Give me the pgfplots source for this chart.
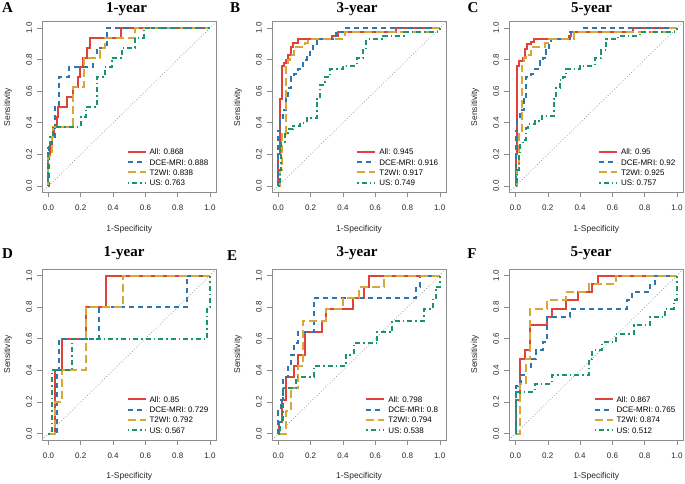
\documentclass[border=0pt]{standalone}
\usepackage{pgfplots}
\pgfplotsset{compat=1.18}
\usepackage{fontspec}
\setmainfont{Liberation Sans}
\newfontfamily\titlefont{Liberation Serif}
\definecolor{cAll}{RGB}{224,66,58}
\definecolor{cDCE}{RGB}{45,118,175}
\definecolor{cT2}{RGB}{215,168,55}
\definecolor{cUS}{RGB}{25,150,105}
\pgfplotsset{
  rocax/.style={
    x=161.5pt, y=158pt,
    xmin=-0.04, xmax=1.04, ymin=-0.04, ymax=1.04,
    anchor=origin,
    axis line style={draw=black!45, line width=0.6pt},
    xtick={0,0.2,0.4,0.6,0.8,1}, ytick={0,0.2,0.4,0.6,0.8,1},
    xticklabels={0.0,0.2,0.4,0.6,0.8,1.0}, yticklabels={0.0,0.2,0.4,0.6,0.8,1.0},
    xtick pos=bottom, ytick pos=left, tick align=outside, major tick length=5pt,
    tick style={draw=black!45, line width=0.6pt},
    ticklabel style={font=\fontsize{8}{9}\selectfont, text=black!85},
    xticklabel shift=0pt, yticklabel shift=0pt,
    yticklabel style={rotate=90, anchor=center, yshift=8pt},
    xticklabel style={anchor=center, yshift=-10.5pt},
    xlabel={1-Specificity}, ylabel={Sensitivity},
    every axis x label/.style={at={(axis description cs:0.5,-0.215)}, anchor=center, font=\fontsize{8.5}{10}\selectfont, text=black!85},
    every axis y label/.style={at={(axis description cs:-0.195,0.5)}, rotate=90, anchor=center, font=\fontsize{8.5}{10}\selectfont, text=black!85},
    legend style={at={(axis description cs:1,0)}, anchor=south east, xshift=-8pt, yshift=4.2pt,
      draw=none, fill=none, inner sep=0pt, font=\fontsize{8}{9}\selectfont,
      row sep=0pt, column sep=3pt,
      nodes={inner sep=0pt, text height=6pt, text depth=0pt, inner ysep=2.15pt}},
    legend cell align=left,
    legend image code/.code={\draw[#1] (0pt,0pt) -- (18pt,0pt);},
  },
  sAll/.style={cAll, line width=2pt},
  sDCE/.style={cDCE, line width=2pt, dash pattern=on 5pt off 4pt},
  sT2/.style={cT2, line width=2pt, dash pattern=on 8pt off 4pt},
  sUS/.style={cUS, line width=2pt, dash pattern=on 1.5pt off 3pt on 5pt off 3pt},
  sDiag/.style={black!45, line width=0.5pt, dash pattern=on 1pt off 2pt},
}
\begin{document}
\begin{tikzpicture}
\useasboundingbox (0,0) rectangle (685pt,483pt);
% ---------------- A
\begin{axis}[rocax, at={(48.5pt,297pt)}]
\addplot[sDiag, forget plot] coordinates {(-0.04,-0.04)(1.04,1.04)};
\addplot[sAll] coordinates {(0,0)(0,0.1875)(0.01,0.1875)(0.01,0.25)(0.02,0.25)(0.02,0.3125)(0.035,0.3125)(0.035,0.375)(0.05,0.375)(0.05,0.4375)(0.06,0.4375)(0.06,0.5)(0.115,0.5)(0.115,0.5625)(0.15,0.5625)(0.15,0.625)(0.18,0.625)(0.18,0.6875)(0.195,0.6875)(0.195,0.75)(0.215,0.75)(0.215,0.8125)(0.24,0.8125)(0.24,0.875)(0.26,0.875)(0.26,0.9375)(0.45,0.9375)(0.45,1)(1,1)};
\addplot[sDCE] coordinates {(0,0)(0.005,0)(0.005,0.25)(0.02,0.25)(0.02,0.3125)(0.04,0.3125)(0.04,0.5)(0.062,0.5)(0.062,0.6875)(0.124,0.6875)(0.124,0.75)(0.275,0.75)(0.275,0.8125)(0.3,0.8125)(0.3,0.875)(0.362,0.875)(0.362,1)(1,1)};
\addplot[sT2] coordinates {(0,0)(0,0.1875)(0.02,0.1875)(0.02,0.3125)(0.03,0.3125)(0.03,0.375)(0.15,0.375)(0.15,0.625)(0.217,0.625)(0.217,0.8125)(0.32,0.8125)(0.32,0.875)(0.35,0.875)(0.35,0.9375)(0.538,0.9375)(0.538,1)(1,1)};
\addplot[sUS] coordinates {(0,0)(0,0.25)(0.01,0.25)(0.01,0.3125)(0.03,0.3125)(0.03,0.375)(0.2,0.375)(0.2,0.4375)(0.235,0.4375)(0.235,0.5)(0.3,0.5)(0.3,0.6875)(0.348,0.6875)(0.348,0.75)(0.393,0.75)(0.393,0.8125)(0.455,0.8125)(0.455,0.875)(0.538,0.875)(0.538,0.9375)(0.59,0.9375)(0.59,1)(1,1)};
\legend{All: 0.868, DCE-MRI: 0.888, T2WI: 0.838, US: 0.763}
\end{axis}
% ---------------- B
\begin{axis}[rocax, at={(278.3pt,297pt)}]
\addplot[sDiag, forget plot] coordinates {(-0.04,-0.04)(1.04,1.04)};
\addplot[sAll] coordinates {(0,0)(0,0.2)(0.01,0.2)(0.01,0.55)(0.02,0.55)(0.02,0.76)(0.035,0.76)(0.035,0.78)(0.05,0.78)(0.05,0.8)(0.062,0.8)(0.062,0.83)(0.08,0.83)(0.08,0.88)(0.093,0.88)(0.093,0.905)(0.124,0.905)(0.124,0.93)(0.33,0.93)(0.33,0.952)(0.37,0.952)(0.37,0.976)(0.73,0.976)(0.73,1)(1,1)};
\addplot[sDCE] coordinates {(0,0)(0,0.35)(0.01,0.35)(0.01,0.43)(0.03,0.43)(0.03,0.48)(0.05,0.48)(0.05,0.55)(0.062,0.55)(0.062,0.62)(0.08,0.62)(0.08,0.69)(0.1,0.69)(0.1,0.71)(0.124,0.71)(0.124,0.74)(0.144,0.74)(0.144,0.76)(0.155,0.76)(0.155,0.8)(0.175,0.8)(0.175,0.83)(0.196,0.83)(0.196,0.86)(0.216,0.86)(0.216,0.9)(0.237,0.9)(0.237,0.93)(0.36,0.93)(0.36,0.976)(0.42,0.976)(0.42,1)(1,1)};
\addplot[sT2] coordinates {(0,0)(0.01,0)(0.01,0.1)(0.02,0.1)(0.02,0.33)(0.05,0.33)(0.05,0.76)(0.062,0.76)(0.062,0.8)(0.072,0.8)(0.072,0.83)(0.1,0.83)(0.1,0.88)(0.165,0.88)(0.165,0.905)(0.185,0.905)(0.185,0.93)(0.41,0.93)(0.41,0.976)(0.96,0.976)(0.96,1)(1,1)};
\addplot[sUS] coordinates {(0,0)(0.01,0)(0.01,0.1)(0.017,0.1)(0.017,0.28)(0.04,0.28)(0.04,0.33)(0.062,0.33)(0.062,0.36)(0.093,0.36)(0.093,0.38)(0.134,0.38)(0.134,0.4)(0.175,0.4)(0.175,0.43)(0.237,0.43)(0.237,0.55)(0.26,0.55)(0.26,0.64)(0.29,0.64)(0.29,0.69)(0.32,0.69)(0.32,0.74)(0.4,0.74)(0.4,0.76)(0.485,0.76)(0.485,0.81)(0.526,0.81)(0.526,0.86)(0.546,0.86)(0.546,0.93)(0.65,0.93)(0.65,0.95)(0.78,0.95)(0.78,0.976)(1,0.976)(1,1)};
\legend{All: 0.945, DCE-MRI: 0.916, T2WI: 0.917, US: 0.749}
\end{axis}
% ---------------- C
\begin{axis}[rocax, at={(515.5pt,297pt)}]
\addplot[sDiag, forget plot] coordinates {(-0.04,-0.04)(1.04,1.04)};
\addplot[sAll] coordinates {(0,0)(0,0.2)(0.01,0.2)(0.01,0.76)(0.02,0.76)(0.02,0.79)(0.045,0.79)(0.045,0.81)(0.056,0.81)(0.056,0.87)(0.072,0.87)(0.072,0.9)(0.093,0.9)(0.093,0.91)(0.114,0.91)(0.114,0.93)(0.33,0.93)(0.33,0.952)(0.345,0.952)(0.345,0.976)(0.727,0.976)(0.727,1)(1,1)};
\addplot[sDCE] coordinates {(0,0)(0,0.35)(0.01,0.35)(0.01,0.42)(0.025,0.42)(0.025,0.48)(0.05,0.48)(0.05,0.55)(0.066,0.55)(0.066,0.69)(0.097,0.69)(0.097,0.71)(0.118,0.71)(0.118,0.74)(0.149,0.74)(0.149,0.79)(0.17,0.79)(0.17,0.81)(0.19,0.81)(0.19,0.86)(0.21,0.86)(0.21,0.9)(0.22,0.9)(0.22,0.93)(0.335,0.93)(0.335,0.976)(0.41,0.976)(0.41,1)(1,1)};
\addplot[sT2] coordinates {(0,0)(0.01,0)(0.01,0.1)(0.02,0.1)(0.02,0.33)(0.04,0.33)(0.04,0.76)(0.05,0.76)(0.05,0.81)(0.062,0.81)(0.062,0.83)(0.097,0.83)(0.097,0.88)(0.18,0.88)(0.18,0.905)(0.207,0.905)(0.207,0.93)(0.36,0.93)(0.36,0.972)(0.955,0.972)(0.955,1)(1,1)};
\addplot[sUS] coordinates {(0,0)(0.01,0)(0.01,0.1)(0.02,0.1)(0.02,0.2)(0.03,0.2)(0.03,0.27)(0.045,0.27)(0.045,0.29)(0.066,0.29)(0.066,0.37)(0.076,0.37)(0.076,0.39)(0.118,0.39)(0.118,0.41)(0.163,0.41)(0.163,0.44)(0.236,0.44)(0.236,0.55)(0.252,0.55)(0.252,0.62)(0.273,0.62)(0.273,0.67)(0.293,0.67)(0.293,0.69)(0.314,0.69)(0.314,0.74)(0.397,0.74)(0.397,0.76)(0.49,0.76)(0.49,0.81)(0.53,0.81)(0.53,0.86)(0.562,0.86)(0.562,0.93)(0.634,0.93)(0.634,0.95)(0.769,0.95)(0.769,0.976)(1,0.976)(1,1)};
\legend{All: 0.95, DCE-MRI: 0.92, T2WI: 0.925, US: 0.757}
\end{axis}
% ---------------- D
\begin{axis}[rocax, at={(48.5pt,49.5pt)}]
\addplot[sDiag, forget plot] coordinates {(-0.04,-0.04)(1.04,1.04)};
\addplot[sAll] coordinates {(0,0)(0.042,0)(0.042,0.4)(0.083,0.4)(0.083,0.6)(0.234,0.6)(0.234,0.8)(0.356,0.8)(0.356,1)(1,1)};
\addplot[sDCE] coordinates {(0,0)(0.052,0)(0.052,0.4)(0.066,0.4)(0.066,0.6)(0.315,0.6)(0.315,0.8)(0.855,0.8)(0.855,1)(1,1)};
\addplot[sT2] coordinates {(0,0)(0.04,0)(0.04,0.2)(0.083,0.2)(0.083,0.4)(0.234,0.4)(0.234,0.8)(0.46,0.8)(0.46,1)(1,1)};
\addplot[sUS] coordinates {(0,0)(0.021,0)(0.021,0.4)(0.145,0.4)(0.145,0.6)(0.983,0.6)(0.983,0.8)(1,0.8)(1,1)};
\legend{All: 0.85, DCE-MRI: 0.729, T2WI: 0.792, US: 0.567}
\end{axis}
% ---------------- E
\begin{axis}[rocax, at={(278.3pt,49.5pt)}]
\addplot[sDiag, forget plot] coordinates {(-0.04,-0.04)(1.04,1.04)};
\addplot[sAll] coordinates {(0,0)(0.006,0)(0.006,0.071)(0.023,0.071)(0.023,0.214)(0.047,0.214)(0.047,0.357)(0.099,0.357)(0.099,0.429)(0.124,0.429)(0.124,0.5)(0.165,0.5)(0.165,0.643)(0.27,0.643)(0.27,0.714)(0.295,0.714)(0.295,0.786)(0.46,0.786)(0.46,0.857)(0.532,0.857)(0.532,0.929)(0.563,0.929)(0.563,1)(1,1)};
\addplot[sDCE] coordinates {(0,0)(0,0.143)(0.016,0.143)(0.016,0.214)(0.027,0.214)(0.027,0.357)(0.058,0.357)(0.058,0.429)(0.078,0.429)(0.078,0.5)(0.099,0.5)(0.099,0.571)(0.12,0.571)(0.12,0.643)(0.219,0.643)(0.219,0.857)(0.85,0.857)(0.85,0.929)(0.876,0.929)(0.876,1)(1,1)};
\addplot[sT2] coordinates {(0,0)(0.047,0)(0.047,0.143)(0.078,0.143)(0.078,0.286)(0.124,0.286)(0.124,0.429)(0.15,0.429)(0.15,0.714)(0.295,0.714)(0.295,0.786)(0.4,0.786)(0.4,0.857)(0.5,0.857)(0.5,0.929)(0.656,0.929)(0.656,1)(1,1)};
\addplot[sUS] coordinates {(0,0)(0.01,0)(0.01,0.071)(0.027,0.071)(0.027,0.286)(0.11,0.286)(0.11,0.357)(0.222,0.357)(0.222,0.429)(0.42,0.429)(0.42,0.5)(0.466,0.5)(0.466,0.571)(0.614,0.571)(0.614,0.643)(0.707,0.643)(0.707,0.714)(0.903,0.714)(0.903,0.786)(0.955,0.786)(0.955,0.857)(0.975,0.857)(0.975,0.929)(1,0.929)(1,1)};
\legend{All: 0.798, DCE-MRI: 0.8, T2WI: 0.794, US: 0.538}
\end{axis}
% ---------------- F
\begin{axis}[rocax, at={(515.5pt,49.5pt)}]
\addplot[sDiag, forget plot] coordinates {(-0.04,-0.04)(1.04,1.04)};
\addplot[sAll] coordinates {(0,0)(0.006,0)(0.006,0.21)(0.025,0.21)(0.025,0.474)(0.058,0.474)(0.058,0.526)(0.087,0.526)(0.087,0.684)(0.196,0.684)(0.196,0.737)(0.223,0.737)(0.223,0.789)(0.31,0.789)(0.31,0.842)(0.39,0.842)(0.39,0.895)(0.474,0.895)(0.474,0.947)(0.51,0.947)(0.51,1)(1,1)};
\addplot[sDCE] coordinates {(0,0)(0.004,0)(0.004,0.3)(0.016,0.3)(0.016,0.316)(0.035,0.316)(0.035,0.368)(0.062,0.368)(0.062,0.421)(0.093,0.421)(0.093,0.474)(0.124,0.474)(0.124,0.526)(0.17,0.526)(0.17,0.579)(0.196,0.579)(0.196,0.737)(0.34,0.737)(0.34,0.789)(0.69,0.789)(0.69,0.842)(0.72,0.842)(0.72,0.895)(0.835,0.895)(0.835,0.947)(0.866,0.947)(0.866,1)(1,1)};
\addplot[sT2] coordinates {(0,0)(0.03,0)(0.03,0.316)(0.062,0.316)(0.062,0.474)(0.087,0.474)(0.087,0.789)(0.196,0.789)(0.196,0.842)(0.31,0.842)(0.31,0.895)(0.454,0.895)(0.454,0.947)(0.62,0.947)(0.62,1)(1,1)};
\addplot[sUS] coordinates {(0,0)(0.004,0)(0.004,0.263)(0.12,0.263)(0.12,0.316)(0.223,0.316)(0.223,0.368)(0.454,0.368)(0.454,0.474)(0.474,0.474)(0.474,0.526)(0.536,0.526)(0.536,0.579)(0.62,0.579)(0.62,0.632)(0.732,0.632)(0.732,0.684)(0.835,0.684)(0.835,0.737)(0.928,0.737)(0.928,0.789)(0.98,0.789)(0.98,0.842)(1,0.842)(1,1)};
\legend{All: 0.867, DCE-MRI: 0.765, T2WI: 0.874, US: 0.512}
\end{axis}
% ---------------- panel letters and titles
\begin{scope}[every node/.style={font=\titlefont\bfseries\fontsize{15}{17}\selectfont, inner sep=0pt}]
\node[anchor=center] at (7.5pt,475pt) {A};
\node[anchor=center] at (235pt,475pt) {B};
\node[anchor=center] at (473pt,475pt) {C};
\node[anchor=center] at (7.5pt,229pt) {D};
\node[anchor=center] at (232pt,227pt) {E};
\node[anchor=center] at (472pt,229.5pt) {F};
\node[anchor=base] at (126.5pt,470.5pt) {1-year};
\node[anchor=base] at (357pt,470.5pt) {3-year};
\node[anchor=base] at (591.5pt,470.5pt) {5-year};
\node[anchor=base] at (124pt,226.5pt) {1-year};
\node[anchor=base] at (357pt,226.5pt) {3-year};
\node[anchor=base] at (591pt,226.5pt) {5-year};
\end{scope}
\end{tikzpicture}
\end{document}
